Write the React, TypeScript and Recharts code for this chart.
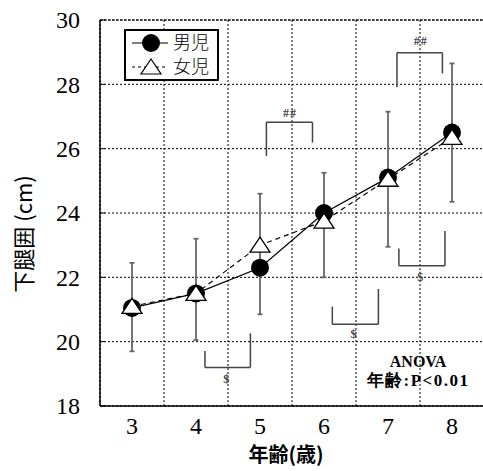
import React from "react";
import { LineChart, Line, XAxis, YAxis, CartesianGrid, ErrorBar, ReferenceLine, ReferenceDot } from "recharts";

const ages = [3, 4, 5, 6, 7, 8];
const boys = [21.05, 21.5, 22.3, 24.0, 25.1, 26.5];
const girls = [21.1, 21.5, 23.0, 23.75, 25.05, 26.35];
const barTop = [22.45, 23.2, 24.6, 25.25, 27.15, 28.65];
const barBottom = [19.7, 20.05, 20.85, 22.0, 22.95, 24.35];
const yTicks = [18, 20, 22, 24, 26, 28, 30];
const halfTicks = [3.5, 4.5, 5.5, 6.5, 7.5];

// significance brackets, in data units
const brackets = [
  { x1: 5.1, x2: 5.82, bar: 26.82, y1: 25.77, y2: 26.19, text: "##", tx: 5.47, ty: 27.12 },
  { x1: 7.14, x2: 7.85, bar: 28.98, y1: 27.91, y2: 28.34, text: "##", tx: 7.51, ty: 29.34 },
  { x1: 4.14, x2: 4.85, bar: 19.2, y1: 19.71, y2: 20.26, text: "$", tx: 4.48, ty: 18.86 },
  { x1: 6.13, x2: 6.85, bar: 20.54, y1: 21.09, y2: 21.64, text: "$", tx: 6.47, ty: 20.24 },
  { x1: 7.17, x2: 7.89, bar: 22.36, y1: 22.9, y2: 23.44, text: "$", tx: 7.51, ty: 22.02 },
];

const data = ages.map((age, i) => ({
  age,
  boys: boys[i],
  girls: girls[i],
  spread: [boys[i] - barBottom[i], barTop[i] - boys[i]],
}));

const serif = "Times New Roman, Liberation Serif, serif";
const gothic = "Noto Sans CJK JP";

const BoyDot = (p: any) => <circle key={"b" + p.index} cx={p.cx} cy={p.cy} r={9} fill="#000" />;

const GirlDot = (p: any) => {
  const { cx, cy } = p;
  return (
    <polygon
      key={"g" + p.index}
      points={`${cx},${cy - 8} ${cx + 10},${cy + 7} ${cx - 10},${cy + 7}`}
      fill="#fff"
      stroke="#000"
      strokeWidth={1.3}
    />
  );
};

const YTick = (p: any) => (
  <g>
    <text x={p.x} y={p.y} dy="0.35em" textAnchor="end" fontFamily={serif} style={{ fontFamily: serif }} fontSize={24} fill="#000">
      {p.payload.value}
    </text>
    <line x1={p.x + 20} x2={p.x + 25} y1={p.y} y2={p.y} stroke="#000" />
  </g>
);

const XTick = (p: any) => (
  <text x={p.x} y={p.y} dy="0.75em" textAnchor="middle" fontFamily={serif} style={{ fontFamily: serif }} fontSize={24} fill="#000">
    {p.payload.value}
  </text>
);

const HalfTick = (p: any) => <line x1={p.x} x2={p.x} y1={p.y} y2={p.y - 5} stroke="#000" />;

const NoteLabel = (p: any) => {
  const { viewBox, value, size, color, weight, family, spacing } = p;
  return (
    <text
      x={viewBox.x + viewBox.width / 2}
      y={viewBox.y + viewBox.height / 2}
      dy="0.35em"
      textAnchor="middle"
      fill={color}
      fontFamily={family}
      fontSize={size}
      fontWeight={weight}
      letterSpacing={spacing}
    >
      {value}
    </text>
  );
};

const Legendbox = () => (
  <svg width={95} height={52} style={{ position: "absolute", left: 124, top: 29 }}>
    <rect x={1} y={1} width={93} height={50} fill="#fff" stroke="#000" strokeWidth={2} />
    <line x1={8} x2={44} y1={14} y2={14} stroke="#000" strokeWidth={1.2} />
    <circle cx={27} cy={14} r={9} fill="#000" />
    <text x={49} y={14} dy="0.36em" fontFamily={gothic} fontSize={18} fontWeight={300} fill="#000">男児</text>
    <line x1={8} x2={44} y1={38} y2={38} stroke="#000" strokeWidth={1.2} strokeDasharray="3 3" />
    <polygon points="27,30 37,45 17,45" fill="#fff" stroke="#000" strokeWidth={1.2} />
    <text x={49} y={38} dy="0.36em" fontFamily={gothic} fontSize={18} fontWeight={300} fill="#000">女児</text>
  </svg>
);

export default function App() {
  return (
    <div style={{ position: "absolute", left: 0, top: 0, width: 483, height: 471, overflow: "hidden", background: "#fff" }}>
      <LineChart width={484} height={471} data={data} margin={{ top: 20, right: 0, bottom: 0, left: 0 }}>
        <XAxis
          xAxisId="half"
          dataKey="age"
          type="number"
          domain={[2.5, 8.5]}
          ticks={halfTicks}
          height={0}
          axisLine={false}
          tickLine={false}
          tickSize={0}
          tickMargin={0}
          tick={<HalfTick />}
        />
        <XAxis
          dataKey="age"
          type="number"
          domain={[2.5, 8.5]}
          ticks={ages}
          height={65}
          axisLine={{ stroke: "#000", strokeWidth: 1.5 }}
          tickLine={false}
          tickSize={0}
          tickMargin={10}
          tick={<XTick />}
          label={{
            content: (p: any) => (
              <text
                x={p.viewBox.x + p.viewBox.width / 2 - 6}
                y={455}
                dy="0.35em"
                textAnchor="middle"
                fontFamily={gothic}
                fontWeight={700}
                fontSize={20}
                fill="#000"
              >
                年齢(歳)
              </text>
            ),
          }}
        />
        <YAxis
          type="number"
          domain={[18, 30]}
          ticks={yTicks}
          width={100}
          axisLine={{ stroke: "#000", strokeWidth: 1.5 }}
          tickLine={false}
          tickSize={0}
          tickMargin={20}
          tick={<YTick />}
          label={{
            content: () => {
              const cx = 24;
              const cy = 234;
              return (
                <text
                  x={cx}
                  y={cy}
                  dy="0.35em"
                  textAnchor="middle"
                  transform={`rotate(-90 ${cx} ${cy})`}
                  fontFamily={gothic}
                  fontSize={22}
                  fill="#000"
                >
                  下腿囲 (cm)
                </text>
              );
            },
          }}
        />
        <CartesianGrid xAxisId="half" stroke="#000" strokeDasharray="2 2" strokeWidth={1} />
        <ReferenceLine y={30} stroke="#000" strokeDasharray="3 1" />

        {brackets.map((b, i) => (
          <React.Fragment key={"br" + i}>
            <ReferenceLine segment={[{ x: b.x1, y: b.y1 }, { x: b.x1, y: b.bar }]} stroke="#444" strokeWidth={1.5} />
            <ReferenceLine segment={[{ x: b.x1, y: b.bar }, { x: b.x2, y: b.bar }]} stroke="#444" strokeWidth={1.5} />
            <ReferenceLine segment={[{ x: b.x2, y: b.bar }, { x: b.x2, y: b.y2 }]} stroke="#444" strokeWidth={1.5} />
            <ReferenceDot
              x={b.tx}
              y={b.ty}
              r={0}
              stroke="none"
              label={<NoteLabel value={b.text} size={12} color="#444" weight={700} family={serif} spacing={1} />}
            />
          </React.Fragment>
        ))}

        <ReferenceDot
          x={7.47}
          y={19.38}
          r={0}
          stroke="none"
          label={<NoteLabel value="ANOVA" size={16} color="#000" weight={700} family={serif} spacing={0} />}
        />
        <ReferenceDot
          x={7.47}
          y={18.81}
          r={0}
          stroke="none"
          label={<NoteLabel value="年齢:P<0.01" size={17} color="#000" weight={700} family={serif} spacing={1.5} />}
        />

        <Line dataKey="boys" stroke="none" dot={false} isAnimationActive={false} legendType="none">
          <ErrorBar dataKey="spread" direction="y" stroke="#666" strokeWidth={1.8} width={2.5} />
        </Line>
        <Line dataKey="boys" stroke="#000" strokeWidth={1.2} dot={<BoyDot />} activeDot={false} isAnimationActive={false} />
        <Line
          dataKey="girls"
          stroke="#000"
          strokeWidth={1.2}
          strokeDasharray="5 4"
          dot={<GirlDot />}
          activeDot={false}
          isAnimationActive={false}
        />
      </LineChart>
      <Legendbox />
    </div>
  );
}
